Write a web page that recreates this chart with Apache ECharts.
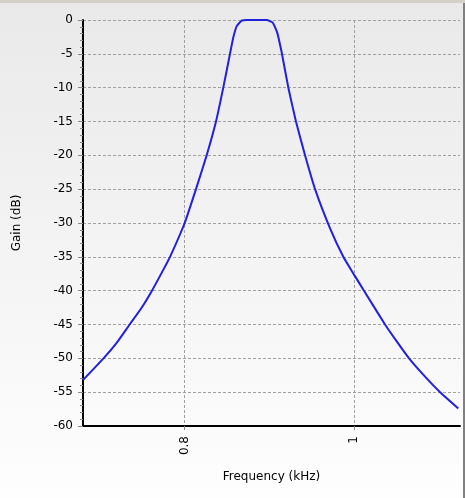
<!DOCTYPE html>
<html>
<head>
<meta charset="utf-8">
<script src="https://cdn.jsdelivr.net/npm/echarts@6/dist/echarts.min.js"></script>
<style>
  html, body { margin: 0; padding: 0; }
  #main { width: 465px; height: 498px; }
</style>
</head>
<body>
<div id="main"></div>
<script>
// frequency response
var freqKHz = [0.6801, 0.7043, 0.7193, 0.7351, 0.7488, 0.7614, 0.7744, 0.7827, 0.8000, 0.8133,
               0.8259, 0.8369, 0.8455, 0.8534, 0.8573, 0.8613, 0.8672, 0.8731, 0.8849, 0.8967,
               0.9038, 0.9092, 0.9132, 0.9147, 0.9222, 0.9312, 0.9419, 0.9537, 0.9714, 0.9870,
               1.0000, 1.0114, 1.0362, 1.0500, 1.0645, 1.0834, 1.1011, 1.1226];
var gainDb = [-53.2, -50, -47.8, -45, -42.6, -40, -37.0, -35, -30, -25,
              -20, -15, -10, -5, -2.6, -0.9, -0.1, 0, 0, 0,
              -0.4, -1.9, -4.1, -5, -10, -15, -20, -25, -30.8, -35,
              -37.7, -40, -45, -47.5, -50, -52.7, -55, -57.4];
var xTicks = [0.8, 1];

var chart = echarts.init(document.getElementById('main'));

var points = freqKHz.map(function (f, i) { return [f, gainDb[i]]; });

var option = {
    backgroundColor: {
        type: 'linear', x: 0, y: 0, x2: 0, y2: 1,
        colorStops: [
            { offset: 0, color: '#e9e9e9' },
            { offset: 1, color: '#fefefe' }
        ]
    },
    animation: false,
    textStyle: {
        fontFamily: 'DejaVu Sans'
    },
    grid: {
        left: 83,
        top: 20,
        right: 5,
        bottom: 72
    },
    graphic: [
        { type: 'rect', shape: { x: 0, y: 0, width: 465, height: 3 }, style: { fill: '#d4d0c8' } },
        { type: 'rect', shape: { x: 463, y: 3, width: 2, height: 495 }, style: { fill: '#808080' } }
    ],
    xAxis: {
        type: 'value',
        min: 0.6801,
        max: 1.1246,
        name: 'Frequency (kHz)',
        nameLocation: 'middle',
        nameGap: 45,
        nameTextStyle: { color: '#000', fontSize: 12 },
        axisLine: {
            onZero: false,
            lineStyle: { color: '#000', width: 2 }
        },
        axisTick: {
            customValues: xTicks,
            length: 4,
            lineStyle: { color: '#888' }
        },
        axisLabel: {
            customValues: xTicks,
            rotate: 90,
            margin: 10,
            color: '#000',
            fontSize: 12
        },
        splitLine: {
            show: true,
            lineStyle: { color: '#a0a0a0', type: [3, 2] }
        }
    },
    yAxis: {
        type: 'value',
        min: -60,
        max: 0,
        interval: 5,
        name: 'Gain (dB)',
        nameLocation: 'middle',
        nameGap: 60,
        nameTextStyle: { color: '#000', fontSize: 12 },
        axisLine: {
            show: true,
            onZero: false,
            lineStyle: { color: '#000', width: 2 }
        },
        axisTick: {
            show: true,
            length: 5,
            lineStyle: { color: '#888' }
        },
        minorTick: {
            show: true,
            splitNumber: 5,
            length: 3,
            lineStyle: { color: '#888' }
        },
        axisLabel: {
            margin: 10,
            color: '#000',
            fontSize: 12
        },
        splitLine: {
            show: true,
            lineStyle: { color: '#a0a0a0', type: [3, 2] }
        }
    },
    series: [{
        type: 'line',
        data: points,
        showSymbol: false,
        smooth: 0.15,
        lineStyle: {
            color: '#2020dd',
            width: 2
        }
    }]
};
chart.setOption(option);
</script>
</body>
</html>
